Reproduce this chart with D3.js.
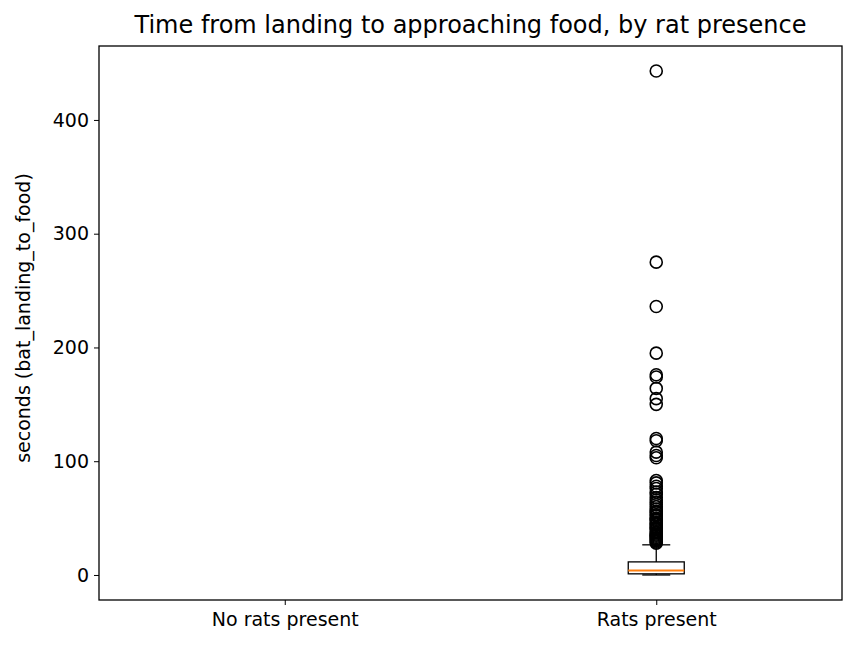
<!DOCTYPE html>
<html><head><meta charset="utf-8">
<script src="https://cdn.jsdelivr.net/npm/d3@7"></script>
<style>body{margin:0;background:#fff}text{font-family:"DejaVu Sans",sans-serif}</style>
</head><body>
<script>
let categories = ["No rats present", "Rats present"]
// box stats for "Rats present" (no data for "No rats present")
let boxStats = [null, {lo: 0, q1: 1, med: 4, q3: 11.5, hi: 26.5}]
let outliers = [443, 275, 236, 195, 176, 174, 164, 155, 150, 120, 118, 108, 105, 103,
    83, 81, 78, 76, 73, 71, 68, 66, 64, 62, 60, 58, 56, 55, 53, 52, 50, 49, 48, 46, 45, 44,
    42, 41, 40, 38, 37, 36, 35, 34, 33, 32, 31, 30, 29, 28]
let yTicks = [0, 100, 200, 300, 400]

let svg = d3.select("body").append("svg").attr("width", 857).attr("height", 650)
let L = 99, R = 842, T = 46, B = 600
let x = d3.scaleLinear().domain([0.5, 2.5]).range([L, R])
let y = d3.scaleLinear().domain([-22, 465]).range([B, T])

svg.append("text").attr("x", (L + R) / 2).attr("y", 33).attr("text-anchor", "middle")
    .attr("font-size", 24).text("Time from landing to approaching food, by rat presence")

let ya = svg.append("g").attr("transform", `translate(${L},0)`)
    .call(d3.axisLeft(y).tickValues(yTicks).tickSize(5).tickPadding(5))
ya.selectAll("text").attr("font-size", 19).attr("fill", "#000")
ya.select(".domain").remove()
let xa = svg.append("g").attr("transform", `translate(0,${B})`)
    .call(d3.axisBottom(x).tickValues([1, 2]).tickFormat((d, i) => categories[i]).tickSize(5).tickPadding(8))
xa.selectAll("text").attr("font-size", 19).attr("fill", "#000")
xa.select(".domain").remove()

svg.append("text").attr("transform", `translate(30,${(T + B) / 2 - 5}) rotate(-90)`)
    .attr("text-anchor", "middle").attr("font-size", 19).text("seconds (bat_landing_to_food)")

boxStats.forEach((s, i) => {
    if (!s) return
    let cx = x(i + 1), hw = 28, cw = 14
    let g = svg.append("g").attr("stroke", "#000").attr("stroke-width", 1.3).attr("fill", "none")
    g.append("line").attr("x1", cx).attr("x2", cx).attr("y1", y(s.q3)).attr("y2", y(s.hi))
    g.append("line").attr("x1", cx).attr("x2", cx).attr("y1", y(s.q1)).attr("y2", y(s.lo))
    g.append("line").attr("x1", cx - cw).attr("x2", cx + cw).attr("y1", y(s.hi)).attr("y2", y(s.hi))
    g.append("line").attr("x1", cx - cw).attr("x2", cx + cw).attr("y1", y(s.lo)).attr("y2", y(s.lo))
    g.append("rect").attr("x", cx - hw).attr("width", 2 * hw).attr("y", y(s.q3)).attr("height", y(s.q1) - y(s.q3))
    g.append("line").attr("x1", cx - hw).attr("x2", cx + hw).attr("y1", y(s.med)).attr("y2", y(s.med))
        .attr("stroke", "#ff7f0e").attr("stroke-width", 2)
    svg.append("g").selectAll("circle").data(outliers).join("circle")
        .attr("cx", cx).attr("cy", d => y(d)).attr("r", 6)
        .attr("fill", "none").attr("stroke", "#000").attr("stroke-width", 1.6)
})

svg.append("rect").attr("x", L).attr("y", T).attr("width", R - L).attr("height", B - T)
    .attr("fill", "none").attr("stroke", "#000").attr("stroke-width", 1.3)
</script>
</body></html>
